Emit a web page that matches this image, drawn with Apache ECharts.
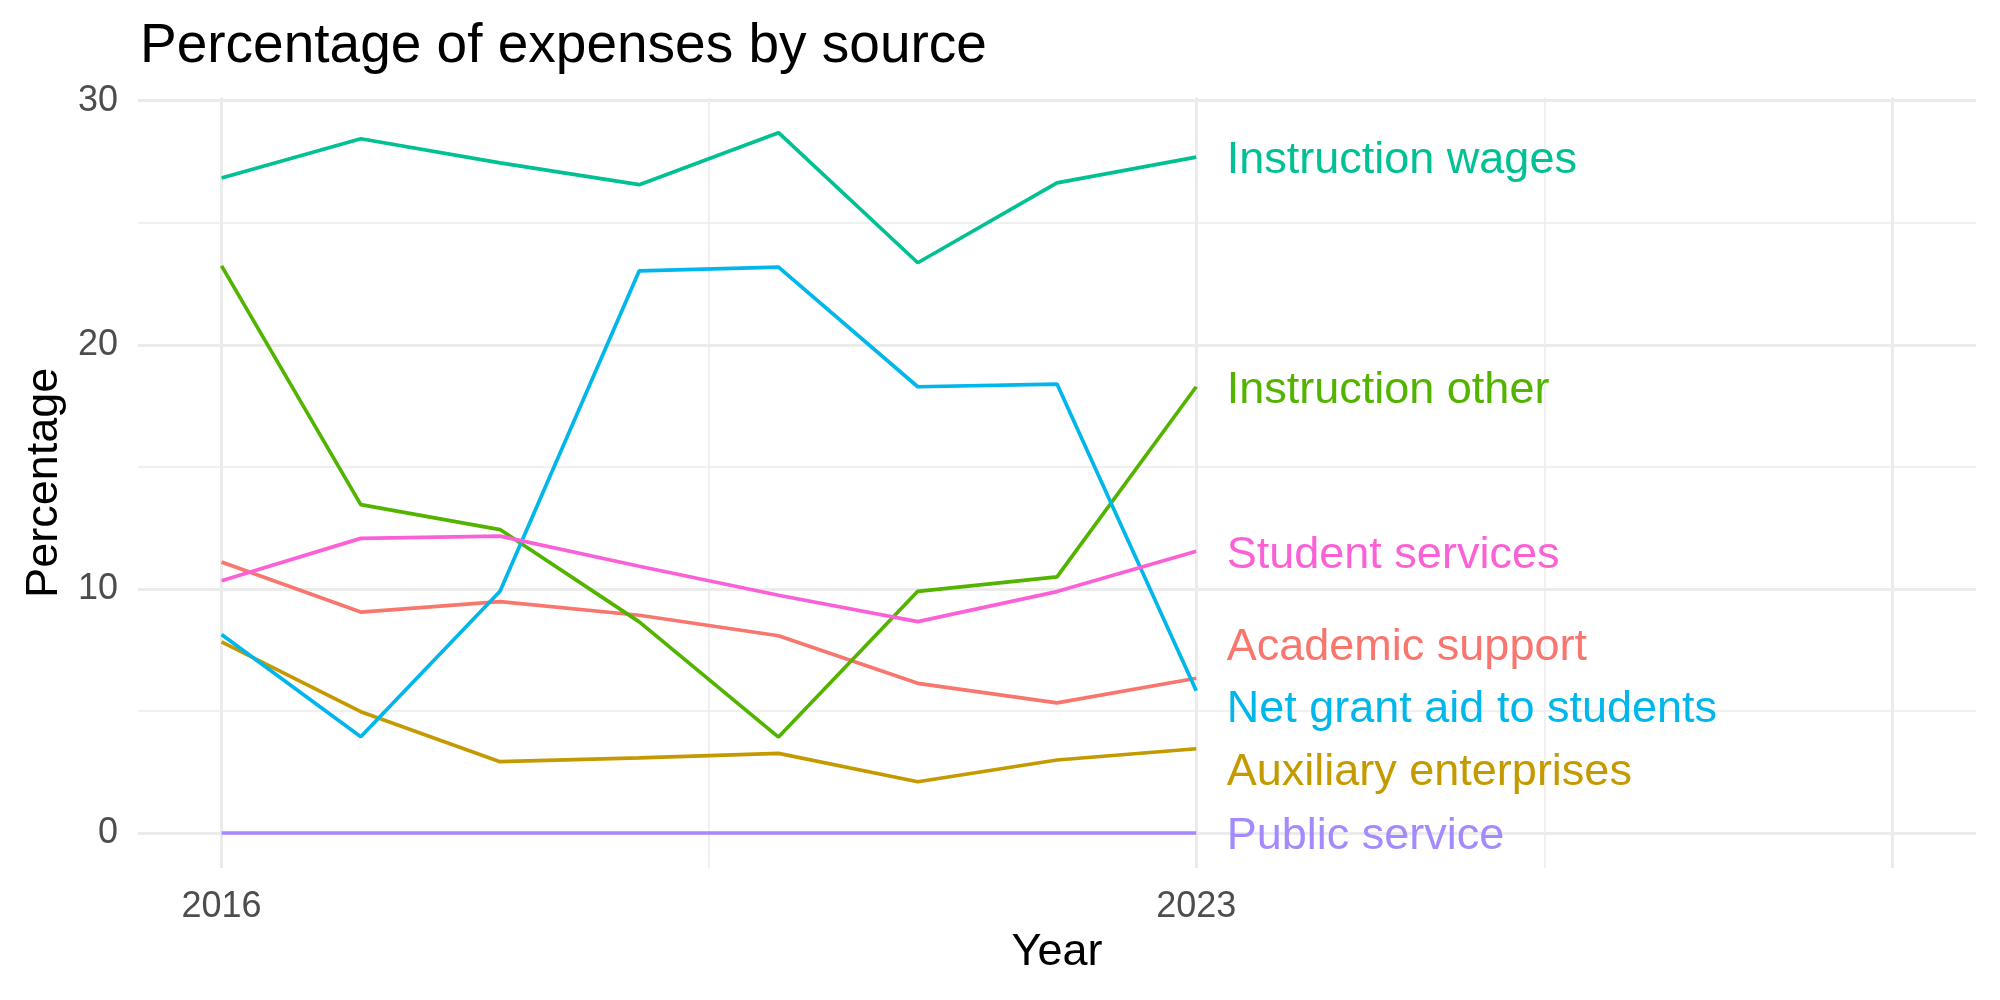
<!DOCTYPE html>
<html>
<head>
<meta charset="utf-8">
<script src="https://cdn.jsdelivr.net/npm/echarts@6/dist/echarts.min.js"></script>
<style>
html, body { margin: 0; padding: 0; background: #fff; }
#chart { width: 2000px; height: 1000px; }
</style>
</head>
<body>
<div id="chart"></div>
<script>
// data
var years = [2016, 2017, 2018, 2019, 2020, 2021, 2022, 2023]
var academicSupport = [11.1, 9.05, 9.48, 8.92, 8.08, 6.13, 5.33, 6.34]
var auxiliaryEnterprises = [7.83, 4.97, 2.92, 3.08, 3.26, 2.1, 2.99, 3.45]
var instructionOther = [23.23, 13.45, 12.43, 8.65, 3.93, 9.9, 10.49, 18.28]
var instructionWages = [26.83, 28.44, 27.45, 26.56, 28.69, 23.36, 26.63, 27.69]
var netGrantAid = [8.13, 3.94, 9.9, 23.03, 23.18, 18.28, 18.39, 5.83]
var publicService = [0, 0, 0, 0, 0, 0, 0, 0]
var studentServices = [10.33, 12.07, 12.16, 10.93, 9.74, 8.66, 9.89, 11.54]

var xLabels = [2016, 2023]
var xMajor = [2016, 2023, 2028]
var xMinor = [2019.5, 2025.5]
var yLabels = [0, 10, 20, 30]
var yMajor = [0, 10, 20, 30]
var yMinor = [5, 15, 25]

var seriesList = [
  { name: 'Academic support', values: academicSupport, color: '#F8766D' },
  { name: 'Auxiliary enterprises', values: auxiliaryEnterprises, color: '#C49A00' },
  { name: 'Instruction other', values: instructionOther, color: '#53B400' },
  { name: 'Instruction wages', values: instructionWages, color: '#00C094' },
  { name: 'Net grant aid to students', values: netGrantAid, color: '#00B6EB' },
  { name: 'Public service', values: publicService, color: '#A58AFF' },
  { name: 'Student services', values: studentServices, color: '#FB61D7' }
]

var font = 'Liberation Sans'
var gridColor = '#EBEBEB'
var labelGap = 2.56 // min distance between end labels, in y units

function gridLines(vals, axis, width) {
  return vals.map(function(v) {
    var d = {}
    d[axis] = v
    d.lineStyle = { color: gridColor, width: width, type: 'solid' }
    return d
  })
}

// crude repel: push neighbouring end labels apart until they don't overlap
function repel(vals, gap) {
  var order = vals.map(function(v, i) { return i }).sort(function(a, b) { return vals[a] - vals[b] })
  var pos = vals.slice()
  for (var it = 0; it < 200; it++) {
    var moved = false
    for (var k = 0; k < order.length - 1; k++) {
      var a = order[k], b = order[k + 1]
      var d = pos[b] - pos[a]
      if (d < gap - 1e-6) {
        var push = (gap - d) / 2
        pos[a] -= push
        pos[b] += push
        moved = true
      }
    }
    if (!moved) break
  }
  return pos
}

var lastVals = seriesList.map(function(s) { return s.values[s.values.length - 1] })
var labelPos = repel(lastVals, labelGap)

var series = [
  {
    name: 'grid',
    type: 'line',
    data: [],
    silent: true,
    z: 0,
    markLine: {
      silent: true,
      z: 0,
      symbol: 'none',
      label: { show: false },
      animation: false,
      data: [].concat(
        gridLines(yMinor, 'yAxis', 1.5),
        gridLines(xMinor, 'xAxis', 1.5),
        gridLines(yMajor, 'yAxis', 3),
        gridLines(xMajor, 'xAxis', 3)
      )
    }
  }
]

seriesList.forEach(function(s) {
  series.push({
    name: s.name,
    type: 'line',
    data: s.values.map(function(v, i) { return [years[i], v] }),
    showSymbol: false,
    symbol: 'none',
    z: 3,
    lineStyle: { color: s.color, width: 3.7 },
    itemStyle: { color: s.color },
    emphasis: { disabled: true }
  })
})

// end labels
series.push({
  name: 'labels',
  type: 'scatter',
  symbolSize: 1,
  z: 4,
  silent: true,
  itemStyle: { color: 'rgba(0,0,0,0)', opacity: 1 },
  emphasis: { disabled: true },
  data: seriesList.map(function(s, i) {
    return {
      name: s.name,
      value: [years[years.length - 1], labelPos[i]],
      label: {
        show: true,
        position: 'right',
        distance: 30,
        offset: [0, 4],
        formatter: '{b}',
        color: s.color,
        fontFamily: font,
        fontSize: 45
      }
    }
  })
})

var chart = echarts.init(document.getElementById('chart'))
chart.setOption({
  animation: false,
  backgroundColor: '#fff',
  title: {
    text: 'Percentage of expenses by source',
    left: 135,
    top: 14,
    textStyle: { fontFamily: font, fontSize: 55, fontWeight: 'normal', color: '#000' }
  },
  grid: { left: 138, right: 24, top: 97.6, bottom: 132, containLabel: false },
  xAxis: {
    type: 'value',
    min: 2015.4,
    max: 2028.6,
    name: 'Year',
    nameLocation: 'middle',
    nameGap: 62,
    nameTextStyle: { fontFamily: font, fontSize: 45, color: '#000' },
    axisLine: { show: false },
    axisTick: { show: false },
    splitLine: { show: false },
    axisLabel: {
      customValues: xLabels,
      formatter: function(v) { return String(v) },
      fontFamily: font,
      fontSize: 36,
      color: '#4D4D4D',
      margin: 21
    }
  },
  yAxis: {
    type: 'value',
    min: -1.434,
    max: 30.126,
    name: 'Percentage',
    nameLocation: 'middle',
    nameGap: 71,
    nameTextStyle: { fontFamily: font, fontSize: 45, color: '#000' },
    axisLine: { show: false },
    axisTick: { show: false },
    splitLine: { show: false },
    axisLabel: {
      customValues: yLabels,
      fontFamily: font,
      fontSize: 36,
      color: '#4D4D4D',
      margin: 20
    }
  },
  series: series
})
</script>
</body>
</html>
